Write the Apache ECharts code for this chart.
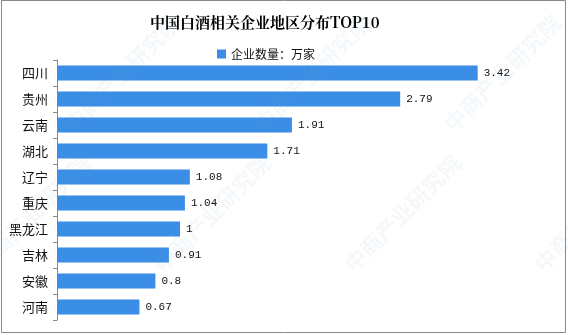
<!DOCTYPE html>
<html>
<head>
<meta charset="utf-8">
<script src="https://cdn.jsdelivr.net/npm/echarts@6/dist/echarts.min.js"></script>
<style>html,body{margin:0;padding:0;background:#fff;}#c{width:568px;height:335px;}</style>
</head>
<body>
<div id="c"></div>
<script>
var titleText = '中国白酒相关企业地区分布TOP10';
var seriesName = '企业数量：万家';
var categories = ['四川','贵州','云南','湖北','辽宁','重庆','黑龙江','吉林','安徽','河南'];
var values = [3.42, 2.79, 1.91, 1.71, 1.08, 1.04, 1, 0.91, 0.8, 0.67];
var watermark = '中商产业研究院';

var chart = echarts.init(document.getElementById('c'), null, {renderer: 'canvas'});
var wmPos = [[60,120],[250,120],[440,120],[150,260],[340,260],[530,260],[-30,260]];
var graphics = [{
  type: 'rect', shape: {x: 1.5, y: 0.5, width: 564, height: 332},
  style: {fill: 'none', stroke: '#8a8a8a', lineWidth: 1}, z: 100
}];
wmPos.forEach(function(p){
  graphics.push({
    type: 'text', x: p[0], y: p[1], rotation: Math.PI/4, z: 50,
    style: {text: watermark, fill: 'rgba(120,150,190,0.07)', font: 'bold 22px "Noto Sans CJK SC"'}
  });
});
chart.setOption({
  animation: false,
  backgroundColor: '#fff',
  title: {
    text: titleText, left: 145, top: 10,
    textStyle: {fontSize: 15, fontWeight: 'bold', color: '#000', fontFamily: '"Noto Serif CJK SC","Noto Sans CJK SC",serif'}
  },
  legend: {
    data: [seriesName], top: 43, left: 212,
    icon: 'rect', itemWidth: 9, itemHeight: 9, itemGap: 4,
    textStyle: {fontSize: 12, color: '#111', fontFamily: '"Noto Sans CJK SC"'}
  },
  grid: {left: 57, top: 60, width: 492, height: 260, containLabel: false},
  xAxis: {
    type: 'value', min: 0, max: 4, show: false
  },
  yAxis: {
    type: 'category', data: categories, inverse: true,
    axisLine: {show: true, lineStyle: {color: '#888', width: 1}},
    axisTick: {show: true, length: 4, lineStyle: {color: '#888'}},
    axisLabel: {fontSize: 13, color: '#111', margin: 9, fontFamily: '"Noto Sans CJK SC"'},
    splitLine: {show: false}
  },
  series: [{
    name: seriesName, type: 'bar', data: values, barWidth: 15,
    itemStyle: {color: '#3a8ee6'},
    label: {
      show: true, position: 'right', distance: 6,
      fontSize: 11, color: '#111', fontFamily: '"Liberation Mono","DejaVu Sans Mono",monospace'
    }
  }],
  graphic: graphics
});
</script>
</body>
</html>
